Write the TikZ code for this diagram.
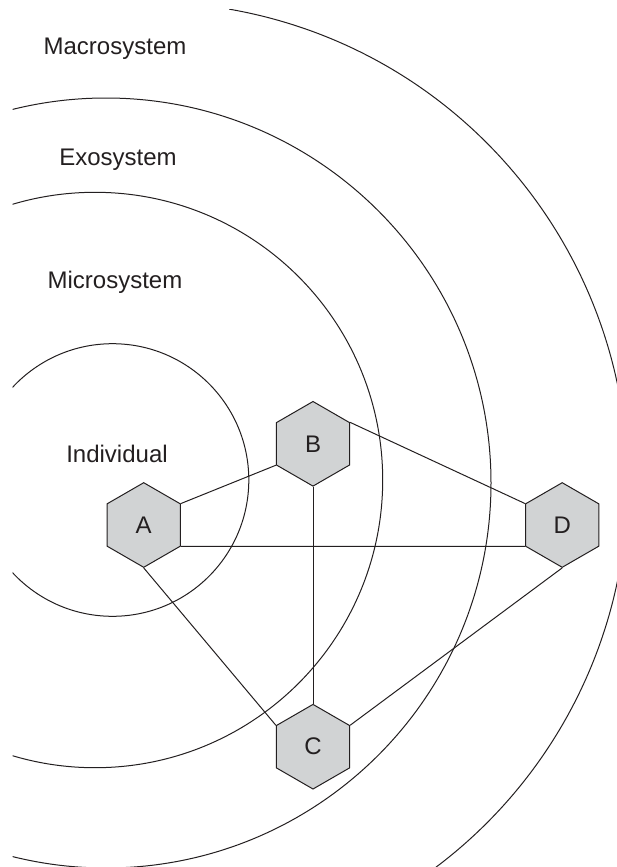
\documentclass[tikz,border=0pt]{standalone}
\usepackage{fontspec}
\setmainfont{Liberation Sans}
\usetikzlibrary{shapes.geometric}
\definecolor{hexgray}{RGB}{209,211,212}
\definecolor{ink}{RGB}{35,31,32}

\begin{document}
\begin{tikzpicture}[x=1pt, y=-1pt, line width=1pt,
        hexa/.style={regular polygon, regular polygon sides=6, shape border rotate=30,
            minimum size=84.6pt, inner sep=0pt, draw=ink, fill=hexgray,
            font=\fontsize{24}{28}\selectfont, text=ink},
        lbl/.style={anchor=base, font=\fontsize{24}{28}\selectfont, text=ink}]
        \useasboundingbox (0,0) rectangle (617,867);
        % the four rings, cut off at the page edges
        \begin{scope}
            \clip (12.7,9.7) rectangle (617,867);
            \draw[ink] (112.5,480) circle [radius=136.3pt];
            \draw[ink] (95,480) circle [radius=287.7pt];
            \draw[ink] (106,483) circle [radius=385pt];
            \draw[ink] (146.6,483) ++(-80.1:481) arc [start angle=-80.1, end angle=53.1, radius=481];
        \end{scope}
        \node[lbl] (macro) at (115,54.3) {Macrosystem};
        \node[lbl] (exo) at (118,165) {Exosystem};
        \node[lbl] (micro) at (115,288.7) {Microsystem};
        \node[lbl] (indiv) at (117,462.3) {Individual};
        \node[hexa] (A) at (143.7,525) {A};
        \node[hexa] (B) at (313,443.8) {B};
        \node[hexa] (C) at (313,746.7) {C};
        \node[hexa] (D) at (562.2,525) {D};
        \draw[ink] (A.30) -- (B.-150);
        \draw[ink] (A.-30) -- (D.-150);
        \draw[ink] (A.-90) -- (C.150);
        \draw[ink] (B.-90) -- (C.90);
        \draw[ink] (B.30) -- (D.150);
        \draw[ink] (D.-90) -- (C.30);
    \end{tikzpicture}
\end{document}
